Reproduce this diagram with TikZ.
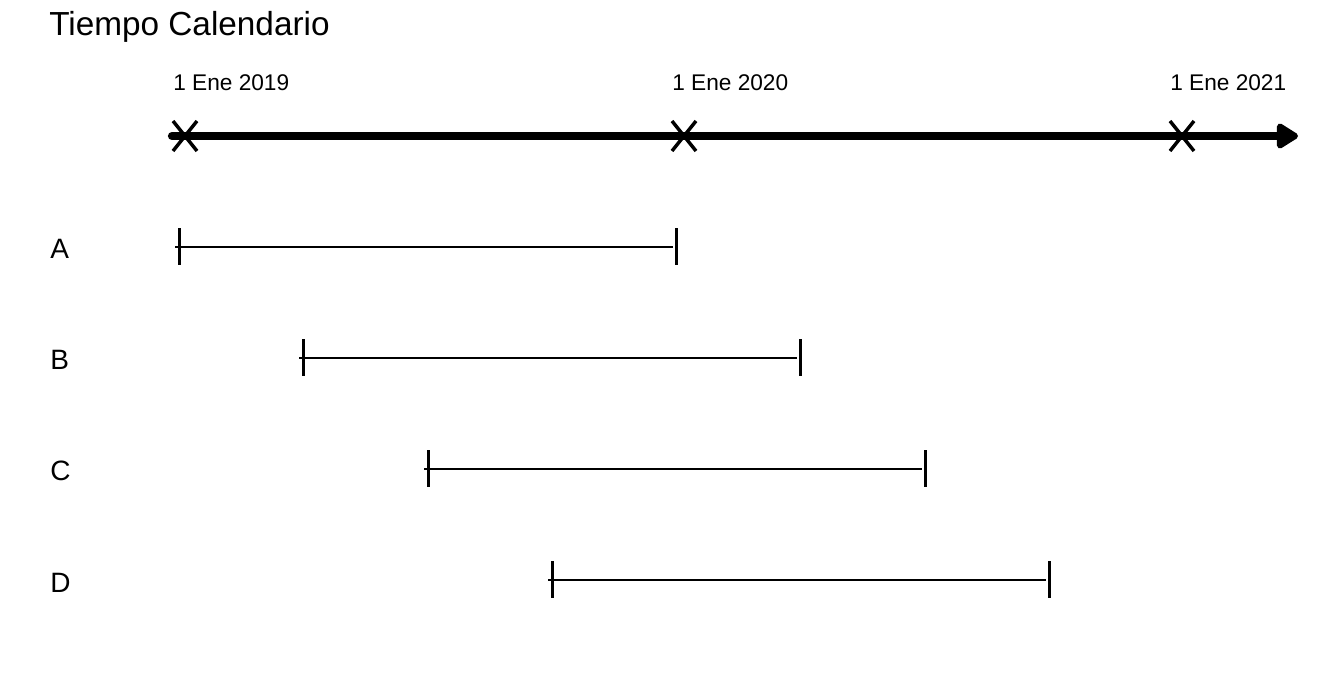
\documentclass[tikz,border=0pt]{standalone}
\usepackage{fontspec}
\setmainfont{Liberation Sans}
\usetikzlibrary{arrows.meta}
\begin{document}
\begin{tikzpicture}[x=0.75pt,y=-0.75pt,
  title/.style={anchor=base west,inner sep=0pt,font=\fontsize{25}{30}\selectfont},
  datelbl/.style={anchor=base west,inner sep=0pt,font=\fontsize{17}{21}\selectfont},
  rowlbl/.style={anchor=base west,inner sep=0pt,font=\fontsize{21}{25}\selectfont},
  axisline/.style={line width=6.2pt,line cap=round,-{Triangle[length=18pt,width=21pt,round]}},
  xmark/.style={line width=2.6pt},
  span/.style={line width=1.5pt},
  tickmark/.style={line width=2.25pt}]
\useasboundingbox (0,0) rectangle (1344,672);
\node[title] (t) at (49,35) {Tiempo Calendario};
% axis
\coordinate (a0) at (172,136);
\coordinate (a1) at (1298,136);
\draw[axisline] (a0) -- (a1);
\foreach \c/\lab/\n in {185/2019/x1,684/2020/x2,1182/2021/x3}{
  \draw[xmark] (\c-12,121) -- (\c+12,151);
  \draw[xmark] (\c-12,151) -- (\c+12,121);
  \node[datelbl] (\n) at (\c-12,90) {1 Ene \lab};
}
% rows
\foreach \r/\y/\s/\e/\b in {A/246.5/179/676/258, B/357.5/303/800/369, C/468.5/428/925/480, D/579.5/552/1049/592}{
  \node[rowlbl] (l\r) at (50,\b) {\r};
  \coordinate (s\r) at (\s-4,\y);
  \coordinate (e\r) at (\e-3,\y);
  \draw[span] (s\r) -- (e\r);
  \draw[tickmark] (\s,\y-18.5) -- (\s,\y+18.5);
  \draw[tickmark] (\e,\y-18.5) -- (\e,\y+18.5);
}
\end{tikzpicture}
\end{document}
